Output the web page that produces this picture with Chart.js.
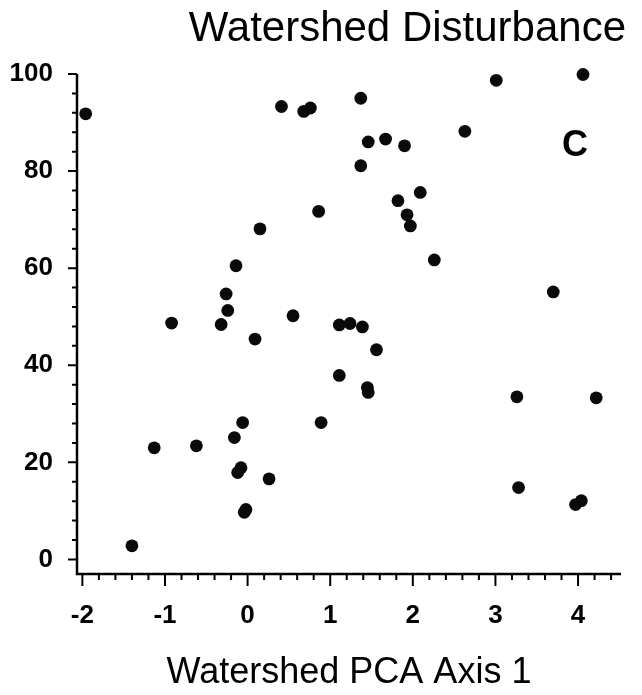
<!DOCTYPE html>
<html>
<head>
<meta charset="utf-8">
<title>Watershed Disturbance</title>
<script src="https://cdn.jsdelivr.net/npm/chart.js@4.4.1/dist/chart.umd.min.js"></script>
<style>
    html, body { margin: 0; padding: 0; background: #fff; }
    #wrap { width: 642px; height: 695px; }
</style>
</head>
<body>
<div id="wrap"><canvas id="disturbanceChart"></canvas></div>
<script>
    // site scores: PCA axis 1 vs disturbance index
    const pcaAxis1 = [
        -1.96, 0.41, 0.68, 0.76, 0.86, 0.15, -0.14, -0.26, -0.24, 0.55,
        -0.92, -0.32, 3.01, 4.06, 1.37, 2.63, 1.46, 1.67, 1.90, 1.37,
        2.09, 1.82, 1.93, 1.97, 2.26, 3.70, 1.11, 1.24, 1.39, 0.09,
        -0.06, -0.16, -0.62, -1.13, -0.08, -0.12, 0.26, -0.02, -0.04, -1.40,
        0.89, 1.56, 1.11, 1.45, 1.46, 3.26, 4.22, 3.28, 3.97, 4.04
    ];
    const disturbance = [
        91.8, 93.3, 92.3, 93.0, 71.7, 68.1, 60.5, 54.7, 51.3, 50.2,
        48.7, 48.4, 98.7, 99.9, 95.0, 88.2, 86.0, 86.6, 85.2, 81.1,
        75.6, 73.9, 71.0, 68.7, 61.7, 55.1, 48.3, 48.6, 47.9, 45.4,
        28.2, 25.1, 23.4, 23.0, 18.9, 17.9, 16.6, 10.3, 9.7, 2.8,
        28.2, 43.2, 37.9, 35.4, 34.4, 33.5, 33.3, 14.8, 11.3, 12.1
    ];
    const xTickLabels = [-2, -1, 0, 1, 2, 3, 4];
    const yTickLabels = [0, 20, 40, 60, 80, 100];

    const chartTitle = 'Watershed Disturbance';
    const xAxisTitle = 'Watershed PCA Axis 1';
    const panelLetter = 'C';

    const FONT = "'Liberation Sans', Arial, Helvetica, sans-serif";

    const points = pcaAxis1.map((x, i) => ({ x: x, y: disturbance[i] }));

    // minor ticks every 0.2 on x and every 4 on y
    const xTickValues = [];
    for (let v = -2; v <= 4.41; v += 0.2) xTickValues.push(Math.round(v * 10) / 10);
    const yTickValues = [];
    for (let v = 0; v <= 100; v += 4) yTickValues.push(v);

    const isMajor = (v, list) => list.some(t => Math.abs(t - v) < 1e-6);

    // plain black axes with long major and short minor ticks, plus titles
    const axesInk = {
        id: 'axesInk',
        beforeDatasetsDraw(chart) {
            const ctx = chart.ctx;
            const area = chart.chartArea;
            const xs = chart.scales.x;
            const ys = chart.scales.y;
            ctx.save();
            ctx.strokeStyle = '#000';
            ctx.lineCap = 'butt';

            ctx.lineWidth = 2.5;
            ctx.beginPath();
            ctx.moveTo(area.left, area.top);
            ctx.lineTo(area.left, area.bottom);
            ctx.lineTo(area.right, area.bottom);
            ctx.stroke();

            ctx.lineWidth = 2;
            ctx.beginPath();
            yTickValues.forEach(v => {
                const py = ys.getPixelForValue(v);
                const len = isMajor(v, yTickLabels) ? 9 : 5;
                ctx.moveTo(area.left, py);
                ctx.lineTo(area.left - len, py);
            });
            xTickValues.forEach(v => {
                const px = xs.getPixelForValue(v);
                const len = isMajor(v, xTickLabels) ? 12 : 6;
                ctx.moveTo(px, area.bottom);
                ctx.lineTo(px, area.bottom + len);
            });
            ctx.stroke();
            ctx.restore();
        },
        afterDraw(chart) {
            const ctx = chart.ctx;
            const area = chart.chartArea;
            ctx.save();
            ctx.fillStyle = '#000';
            ctx.textBaseline = 'middle';

            ctx.font = `42px ${FONT}`;
            ctx.textAlign = 'right';
            ctx.fillText(chartTitle, area.right + 5, 29);

            ctx.font = `bold 36px ${FONT}`;
            ctx.textAlign = 'center';
            ctx.fillText(panelLetter, area.right - 46, 146);
            ctx.restore();
        }
    };

    const ctx = document.getElementById('disturbanceChart').getContext('2d');
    const disturbanceChart = new Chart(ctx, {
        type: 'scatter',
        data: {
            datasets: [{
                data: points,
                backgroundColor: '#0a0a0a',
                borderWidth: 0,
                pointRadius: 6.4,
                pointHoverRadius: 6.4,
                clip: false
            }]
        },
        options: {
            responsive: true,
            maintainAspectRatio: false,
            animation: false,
            layout: {
                padding: { top: 74, right: 21, bottom: 0, left: 0 }
            },
            plugins: {
                legend: { display: false },
                title: { display: false },
                tooltip: { enabled: false }
            },
            scales: {
                x: {
                    type: 'linear',
                    min: -2.065,
                    max: 4.52,
                    afterBuildTicks: scale => {
                        scale.ticks = xTickValues.map(v => ({ value: v }));
                    },
                    afterFit: scale => {
                        scale.height = 121;
                    },
                    grid: { display: false, drawTicks: false },
                    border: { display: false },
                    ticks: {
                        autoSkip: false,
                        maxRotation: 0,
                        padding: 26,
                        color: '#000',
                        font: { family: FONT, size: 26, weight: 'bold' },
                        callback: v => isMajor(v, xTickLabels) ? String(v) : ''
                    },
                    title: {
                        display: true,
                        text: xAxisTitle,
                        color: '#000',
                        font: { family: FONT, size: 36 },
                        padding: { top: 0, bottom: 0 }
                    }
                },
                y: {
                    type: 'linear',
                    min: -3,
                    max: 100,
                    afterBuildTicks: scale => {
                        scale.ticks = yTickValues.map(v => ({ value: v }));
                    },
                    afterFit: scale => {
                        scale.width = 77;
                    },
                    grid: { display: false, drawTicks: false },
                    border: { display: false },
                    ticks: {
                        autoSkip: false,
                        padding: 24,
                        color: '#000',
                        font: { family: FONT, size: 26, weight: 'bold' },
                        callback: v => isMajor(v, yTickLabels) ? String(v) : ''
                    }
                }
            }
        },
        plugins: [axesInk]
    });
</script>
</body>
</html>
